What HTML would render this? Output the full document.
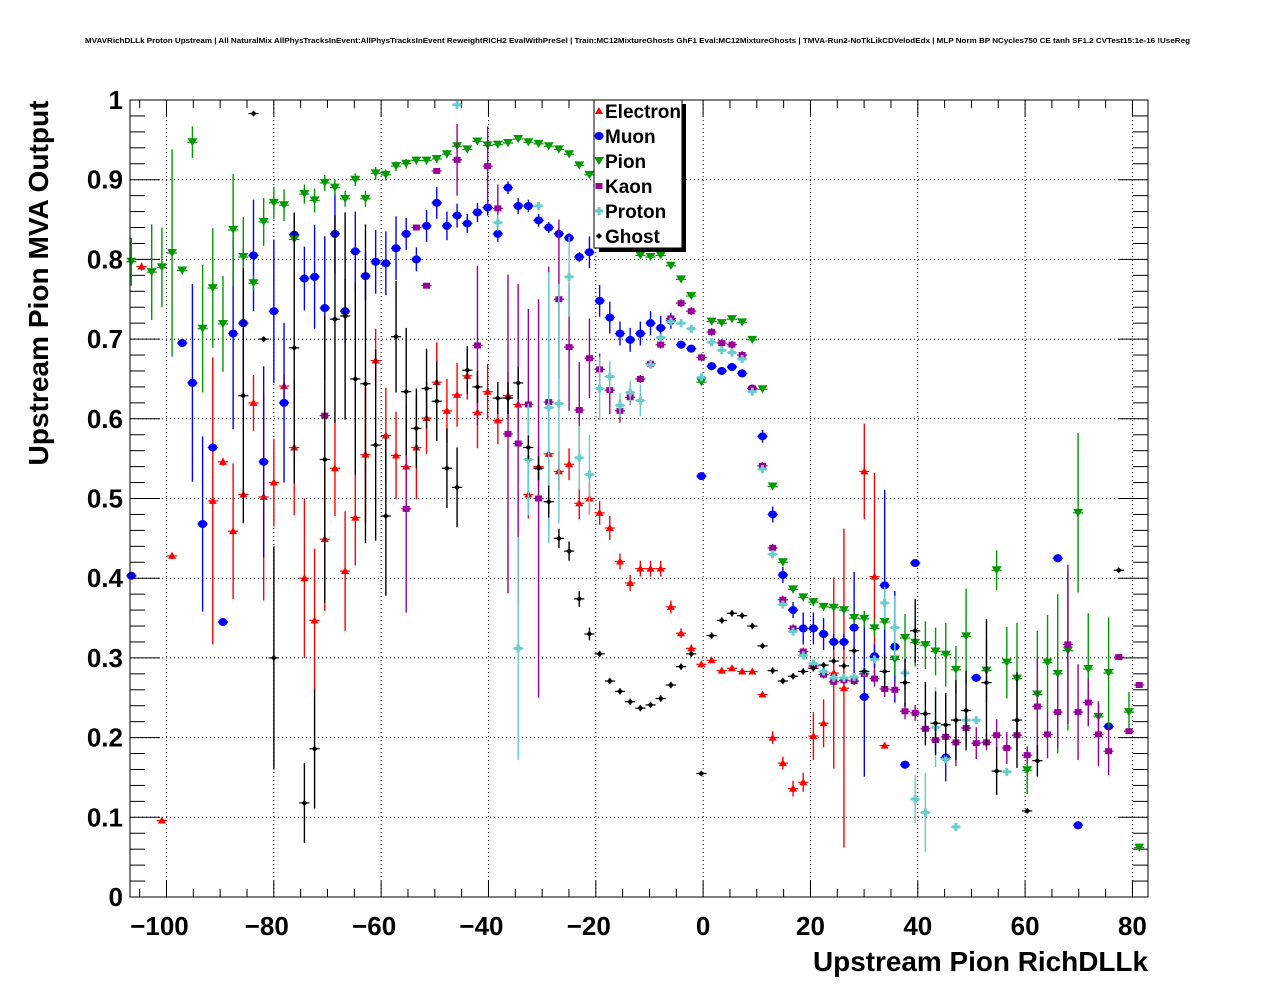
<!DOCTYPE html>
<html><head><meta charset="utf-8"><style>
html,body{margin:0;padding:0;background:#fff;}
svg{display:block;font-family:"Liberation Sans",Arial,sans-serif;}
</style></head><body>
<svg id="chart" width="1276" height="996" viewBox="0 0 1276 996" xmlns="http://www.w3.org/2000/svg">
<rect x="0" y="0" width="1276" height="996" fill="#fff"/>
<text x="85" y="43" font-size="7.5" font-weight="bold" textLength="1105" lengthAdjust="spacingAndGlyphs">MVAVRichDLLk Proton Upstream | All NaturalMix AllPhysTracksInEvent:AllPhysTracksInEvent ReweightRICH2 EvalWithPreSel | Train:MC12MixtureGhosts GhF1 Eval:MC12MixtureGhosts | TMVA-Run2-NoTkLikCDVelodEdx | MLP Norm BP NCycles750 CE tanh SF1.2 CVTest15:1e-16 !UseReg</text>
<g id="grid"></g>
<g id="axes"></g>
<g id="marks"></g>
<rect x="130" y="100" width="1018" height="797" fill="none" stroke="#000" stroke-width="1"/>
<text transform="translate(48,283) rotate(-90)" text-anchor="middle" font-size="28" font-weight="bold" textLength="365" lengthAdjust="spacingAndGlyphs">Upstream Pion MVA Output</text>
<text x="1148" y="971" text-anchor="end" font-size="28" font-weight="bold" textLength="335" lengthAdjust="spacingAndGlyphs">Upstream Pion RichDLLk</text>
<g id="legend"></g>
</svg>
<script>
const N=null;
const seriesNames=["Electron","Muon","Pion","Kaon","Proton","Ghost"];
const electronVals=[N,0.791,N,0.096,0.428,N,N,N,0.497,0.546,
0.459,0.505,0.62,0.502,0.52,0.641,0.564,0.40,0.347,0.449,
0.538,0.409,0.476,0.555,0.673,0.579,0.554,0.54,0.564,0.601,
0.646,0.61,0.63,0.654,0.608,0.634,0.598,0.629,0.618,0.505,
0.54,0.556,0.534,0.543,0.494,0.50,0.482,0.463,0.421,0.394,
0.412,0.412,0.412,0.364,0.331,0.312,0.292,0.297,0.284,0.287,
0.283,0.283,0.254,0.20,0.168,0.136,0.144,0.202,0.218,0.281,
0.262,N,0.534,0.402,0.19,N,N,N,N,N,
N,N,N,N,N,N,N,N,N,N,N,N,N,N,N,N,N,N,N,N];
const electronErrs=[0,.005,0,.003,.004,0,0,0,.18,.005,
.085,.005,.035,.13,.055,.015,.085,.1,.09,.09,
.06,.075,.06,.085,.04,.06,.055,.05,.065,.045,
.05,.04,.04,.03,.045,.035,.03,.03,.035,.03,
.025,.025,.025,.02,.02,.02,.015,.015,.01,.01,
.01,.01,.01,.008,.006,.005,.004,.003,.003,.003,
.003,.003,.003,.008,.008,.01,.012,.03,.03,.12,
.2,0,.06,.13,.003,0,0,0,0,0,
0,0,0,0,0,0,0,0,0,0,0,0,0,0,0,0,0,0,0,0];
const muonVals=[.403,N,N,N,N,.695,.645,.468,.564,.345,
.707,.72,.805,.546,.735,.62,.831,.776,.778,.739,
.832,.735,.81,.779,.797,.795,.814,.832,.80,.842,
.871,.842,.855,.845,.859,.865,.832,.89,.867,.867,
.849,.84,.832,.827,.803,.809,.748,.727,.707,.699,
.707,.72,.714,.723,.693,.688,.528,.666,.66,.665,
.657,.638,.578,.48,.404,.36,.337,.337,.33,.32,
.32,.338,.251,.302,.391,.314,.166,.419,N,N,
.175,N,N,.275,N,N,N,N,N,N,
N,.425,N,.09,N,N,.214,N,N,N];
const muonErrs=[.003,0,0,0,0,.005,.124,.11,.005,.005,
.12,.095,.07,.12,.09,.1,.025,.04,.065,.09,
.05,.04,.05,.03,.04,.04,.04,.02,.015,.02,
.02,.018,.015,.012,.012,.01,.01,.008,.01,.008,
.008,.007,.007,.006,.006,.02,.02,.02,.015,.015,
.015,.015,.015,.01,.005,.005,.003,.005,.005,.005,
.005,.005,.008,.01,.01,.01,.02,.02,.02,.01,
.01,.07,.1,.015,.12,.07,.005,.005,0,0,
.03,0,0,.005,0,0,0,0,0,0,
0,.005,0,.005,0,0,.005,0,0,0];
const pionVals=[.797,N,.784,.79,.808,.786,.947,.713,.764,.719,
.837,.803,.77,.847,.871,.868,.825,.882,.874,.896,
.89,.876,.90,.876,.908,.906,.917,.92,.924,.924,
.926,.932,.942,.938,.948,.943,.944,.946,.951,.947,
.945,.942,.938,.932,.918,.906,.88,.86,.84,.82,
.805,.803,.805,.792,.775,.754,.646,.722,.72,.725,
.721,.699,.637,.515,.42,.386,.376,.37,.364,.363,
.36,.35,.349,.337,.345,.298,.325,.319,.316,.308,
.304,.285,.327,N,.284,.41,.294,.274,.159,.254,
.294,.28,.309,.482,.286,.226,.281,N,.232,.062];
const pionErrs=[.03,0,.06,.05,.13,.005,.02,.08,.075,.06,
.07,.05,.01,.03,.02,.02,.03,.012,.015,.01,
.01,.01,.008,.01,.008,.007,.006,.006,.005,.005,
.005,.005,.005,.004,.004,.004,.004,.004,.004,.004,
.004,.004,.004,.004,.004,.004,.004,.004,.004,.004,
.004,.004,.004,.004,.004,.004,.004,.004,.004,.004,
.004,.004,.004,.004,.005,.005,.005,.005,.005,.005,
.006,.008,.01,.01,.01,.02,.03,.03,.03,.03,
.04,.03,.06,0,.04,.025,.045,.07,.03,.08,
.06,.1,.1,.1,.07,.02,.07,0,.025,.003];
const kaonVals=[N,N,N,N,N,N,N,N,N,N,
N,N,N,N,N,N,N,N,N,.604,
N,N,N,N,N,N,N,.487,.84,.767,
.911,N,.925,N,.692,.917,.864,.581,.569,.618,
.50,.621,.75,.69,.611,.676,.662,.636,.61,.627,
.65,.669,.693,.726,.745,.735,.677,.709,.695,.693,
.68,.638,.541,.438,.373,.337,.308,.29,.279,.27,
.272,.271,.28,.274,.261,.26,.233,.231,.211,.197,
.201,.194,.212,.193,.194,.203,.187,.203,.178,.239,
.204,.232,.317,.232,.244,.204,.183,.301,.208,.266];
const kaonErrs=[0,0,0,0,0,0,0,0,0,0,
0,0,0,0,0,0,0,0,0,.003,
0,0,0,0,0,0,0,.13,.003,.003,
.003,0,.045,0,.1,.05,.03,.2,.2,.12,
.25,.17,.1,.08,.06,.05,.02,.03,.015,.01,
.005,.005,.005,.005,.005,.005,.005,.005,.005,.005,
.005,.005,.005,.005,.005,.005,.005,.005,.005,.005,
.005,.005,.005,.01,.01,.01,.01,.01,.01,.01,
.02,.03,.02,.02,.01,.02,.02,.02,.01,.06,
.03,.045,.1,.06,.03,.04,.03,.003,.003,.003];
const protonVals=[N,N,N,N,N,N,N,N,N,N,
N,N,N,N,N,N,N,N,N,N,
N,N,N,N,N,N,N,N,N,N,
N,N,.994,N,N,N,.846,N,.312,.549,
.867,.614,.619,.778,.551,.53,.638,.653,.617,.633,
.623,.668,.702,.722,.72,.713,.652,.696,.686,.683,
.675,.634,.537,.43,.367,.333,.303,.293,.283,.275,
.275,.276,.283,.298,.369,.338,.281,.123,.106,.213,
.173,.088,.222,.222,N,N,.157,N,N,N,
N,N,N,N,N,N,N,N,N,N];
const protonErrs=[0,0,0,0,0,0,0,0,0,0,
0,0,0,0,0,0,0,0,0,0,
0,0,0,0,0,0,0,0,0,0,
0,0,.003,0,0,0,.01,0,.14,.07,
.003,.17,.15,.05,.04,.05,.04,.02,.015,.015,
.02,.005,.005,.005,.005,.005,.005,.005,.005,.005,
.005,.005,.005,.005,.005,.005,.005,.005,.005,.005,
.005,.005,.005,.005,.02,.04,.02,.03,.05,.05,
.003,.003,.003,.003,0,0,.003,0,0,0,
0,0,0,0,0,0,0,0,0,0];
const ghostVals=[N,N,N,N,N,N,N,N,N,N,
N,.629,.983,.70,.30,N,.689,.118,.186,.549,
.725,.729,.65,.644,.567,.478,.703,.634,.588,.638,
.622,.538,.514,.661,.64,N,.626,.626,.645,.564,
.538,.496,.45,.434,.374,.33,.305,.271,.258,.245,
.237,.241,.249,.266,.289,.305,.155,.328,.347,.356,
.353,.34,.315,.284,.271,.277,.283,.287,.291,.296,
.29,.309,.283,N,.283,N,.269,.334,.23,.218,
.216,.222,.234,N,.269,.158,N,.222,.108,.171,
N,N,N,N,N,N,N,.41,N,N];
const ghostErrs=[0,0,0,0,0,0,0,0,0,0,
0,.16,.003,.003,.14,0,.17,.05,.075,.18,
.13,.13,.12,.2,.12,.1,.07,.08,.05,.05,
.05,.05,.05,.03,.02,0,.02,.02,.02,.015,
.015,.02,.012,.012,.01,.008,.004,.004,.004,.004,
.004,.004,.004,.004,.004,.004,.003,.004,.004,.004,
.004,.004,.004,.004,.004,.004,.004,.004,.004,.004,
.004,.004,.004,0,.02,0,.03,.04,.04,.04,
.04,.05,.05,0,.08,.03,0,.06,.003,.02,
0,0,0,0,0,0,0,.003,0,0];
const xTickLabels=["\u2212100","\u221280","\u221260","\u221240","\u221220","0","20","40","60","80"];
const xTickValues=[-100,-80,-60,-40,-20,0,20,40,60,80];
const yTickLabels=["0","0.1","0.2","0.3","0.4","0.5","0.6","0.7","0.8","0.9","1"];
const yTickValues=[0,0.1,0.2,0.3,0.4,0.5,0.6,0.7,0.8,0.9,1];
const binStart=-106.55, binWidth=1.897;

const X0=130,X1=1148,Y0=897,Y1=100, XMIN=-106.8, XMAX=82.9;
function xs(v){return X0+(v-XMIN)/(XMAX-XMIN)*(X1-X0);}
function ys(v){return Y0-(v-0)/(1-0)*(Y0-Y1);}
const NS="http://www.w3.org/2000/svg";
function mk(tag,attrs,parent){const e=document.createElementNS(NS,tag);for(const k in attrs)e.setAttribute(k,attrs[k]);parent.appendChild(e);return e;}
const grid=document.getElementById('grid'),axes=document.getElementById('axes'),marks=document.getElementById('marks'),legend=document.getElementById('legend');
xTickValues.forEach(v=>{const l=mk('line',{x1:xs(v),x2:xs(v),y1:Y1,y2:Y0,stroke:'#000','stroke-width':1,'stroke-dasharray':'1,3'},grid);

});
yTickValues.slice(1,10).forEach(v=>{const l=mk('line',{x1:X0,x2:X1,y1:ys(v),y2:ys(v),stroke:'#000','stroke-width':1,'stroke-dasharray':'1,3'},grid);

});
for(let v=-105;v<=80;v+=5){const major=(v%20===0);const len=major?16:8;const x=xs(v);
mk('line',{x1:x,x2:x,y1:Y0,y2:Y0-len,stroke:'#000','stroke-width':1},axes);
mk('line',{x1:x,x2:x,y1:Y1,y2:Y1+len,stroke:'#000','stroke-width':1},axes);}
xTickValues.forEach((v,i)=>{const t=mk('text',{x:xs(v)-(v<0?7:0),y:935,'text-anchor':'middle','font-size':26,'font-weight':'bold'},axes);t.textContent=xTickLabels[i];

});
for(let i=0;i<=50;i++){const v=i*0.02;const major=(i%5===0);const len=major?30:15;const y=ys(v);
mk('line',{x1:X0,x2:X0+len,y1:y,y2:y,stroke:'#000','stroke-width':1},axes);
mk('line',{x1:X1,x2:X1-len,y1:y,y2:y,stroke:'#000','stroke-width':1},axes);}
yTickValues.forEach((v,i)=>{const t=mk('text',{x:123,y:ys(v)+9,'text-anchor':'end','font-size':26,'font-weight':'bold'},axes);t.textContent=yTickLabels[i];

});
const colors={Electron:'#ff0000',Muon:'#0000ff',Pion:'#009900',Kaon:'#990099',Proton:'#66cccc',Ghost:'#000000'};
function marker(name,cx,cy,parent){const c=colors[name];let e;
if(name==='Electron')e=mk('polygon',{points:`${cx-4},${cy+3} ${cx+4},${cy+3} ${cx},${cy-4}`,fill:c},parent);
else if(name==='Muon')e=mk('ellipse',{cx:cx,cy:cy,rx:4.5,ry:4,fill:c},parent);
else if(name==='Pion')e=mk('polygon',{points:`${cx-5},${cy-4} ${cx+5},${cy-4} ${cx},${cy+4}`,fill:c},parent);
else if(name==='Kaon')e=mk('rect',{x:cx-3.5,y:cy-3,width:7,height:6,fill:c},parent);
else if(name==='Proton')e=mk('path',{d:`M${cx-4},${cy-1.5}h8v3h-8z M${cx-1.5},${cy-4}h3v8h-3z`,fill:c},parent);
else e=mk('polygon',{points:`${cx-3},${cy} ${cx},${cy-3} ${cx+3},${cy} ${cx},${cy+3}`,fill:c},parent);
return e;}
const allVals=[electronVals,muonVals,pionVals,kaonVals,protonVals,ghostVals];
const allErrs=[electronErrs,muonErrs,pionErrs,kaonErrs,protonErrs,ghostErrs];
seriesNames.forEach((name,si)=>{
const g=mk('g',{},marks);


const vals=allVals[si],errs=allErrs[si],c=colors[name];
vals.forEach((v,k)=>{if(v===null)return;
const xc=binStart+binWidth*k;const cx=xs(xc),cy=ys(v);
const pg=mk('g',{},g);


mk('line',{x1:xs(xc-binWidth/2),x2:xs(xc+binWidth/2),y1:cy,y2:cy,stroke:c,'stroke-width':1.2},pg);
const e=errs[k]||0;
if(e>0)mk('line',{x1:cx,x2:cx,y1:ys(Math.min(1,v+e)),y2:ys(Math.max(0,v-e)),stroke:c,'stroke-width':1.4},pg);
marker(name,cx,cy,pg);});
});
mk('rect',{x:599,y:104,width:87,height:148,fill:'#000'},legend);
const lb=mk('rect',{x:594,y:100,width:88,height:148,fill:'#fff',stroke:'#000','stroke-width':1},legend);


seriesNames.forEach((name,i)=>{const y=111+i*25;
const g=mk('g',{},legend);


marker(name,599,y,g);
const t=mk('text',{x:605,y:y+7,'font-size':19,'font-weight':'bold'},g);t.textContent=name;});
</script>
</body></html>
